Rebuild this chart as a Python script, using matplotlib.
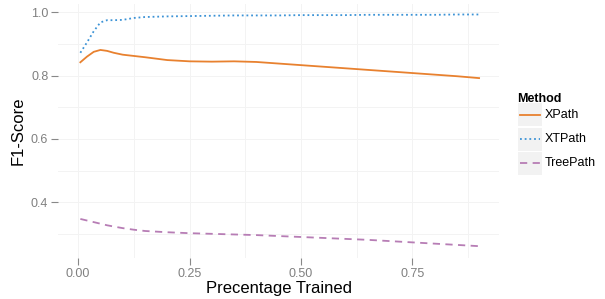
import matplotlib.pyplot as plt
from matplotlib.lines import Line2D
from matplotlib.patches import Rectangle

plt.rcParams['font.family'] = ['Liberation Sans', 'DejaVu Sans']

methods = ["XPath", "XTPath", "TreePath"]
colors = ["#E8812F", "#3C93D6", "#B77DB5"]
styles = ["-", (0, (1, 1.6)), (0, (4, 3))]

x = [0.005, 0.02, 0.035, 0.05, 0.065, 0.08, 0.1, 0.125, 0.15, 0.2, 0.25, 0.3,
     0.35, 0.4, 0.45, 0.5, 0.55, 0.6, 0.65, 0.7, 0.75, 0.8, 0.85, 0.9]
xpath = [0.842, 0.86, 0.875, 0.881, 0.878, 0.872, 0.866, 0.862, 0.858, 0.849,
         0.845, 0.844, 0.845, 0.843, 0.838, 0.833, 0.828, 0.823, 0.818, 0.813,
         0.808, 0.803, 0.798, 0.792]
xtpath = [0.872, 0.905, 0.94, 0.968, 0.975, 0.975, 0.976, 0.982, 0.985, 0.987,
          0.988, 0.989, 0.99, 0.99, 0.99, 0.991, 0.991, 0.991, 0.992, 0.992,
          0.992, 0.992, 0.993, 0.993]
treepath = [0.347, 0.342, 0.337, 0.332, 0.327, 0.323, 0.318, 0.313, 0.309, 0.305,
            0.302, 0.3, 0.298, 0.296, 0.293, 0.29, 0.287, 0.284, 0.281, 0.277,
            0.273, 0.269, 0.265, 0.261]
series = [xpath, xtpath, treepath]

fig = plt.figure(figsize=(6.05, 2.99), dpi=100)
ax = fig.add_axes([0.096, 0.137, 0.729, 0.85])

for y, c, ls in zip(series, colors, styles):
    ax.plot(x, y, color=c, linestyle=ls, linewidth=1.3)

ax.set_xlim(-0.045, 0.945)
ax.set_ylim(0.2235, 1.0265)
ax.set_xticks([0, 0.25, 0.5, 0.75])
ax.set_xticklabels(["0.00", "0.25", "0.50", "0.75"])
ax.set_yticks([0.4, 0.6, 0.8, 1.0])
ax.set_xticks([0.125, 0.375, 0.625, 0.875], minor=True)
ax.set_yticks([0.3, 0.5, 0.7, 0.9], minor=True)
ax.grid(True, which="both", color="#F3F3F3", linewidth=0.7)
ax.set_axisbelow(True)
for s in ax.spines.values():
    s.set_visible(False)
ax.tick_params(which="major", colors="#888888", labelcolor="#808080",
               labelsize=9, length=5, width=0.8, pad=2)
ax.tick_params(which="minor", length=0)
ax.set_xlabel("Precentage Trained", fontsize=12, labelpad=1)
ax.set_ylabel("F1-Score", fontsize=12, labelpad=4)

# legend
fig.text(0.855, 0.668, "Method", fontsize=9, fontweight="bold", va="center")
for i, (m, c, ls) in enumerate(zip(methods, colors, styles)):
    yc = 1 - (115 + 24 * i) / 299
    fig.add_artist(Rectangle((0.856, yc - 11.5 / 299), 24 / 605, 23 / 299,
                             transform=fig.transFigure, facecolor="#F2F2F2",
                             edgecolor="none"))
    fig.add_artist(Line2D([0.859, 0.893], [yc, yc], transform=fig.transFigure,
                          color=c, linestyle=ls, linewidth=1.3))
    fig.text(0.9, yc, m, fontsize=9, va="center")

fig.savefig("out.png", dpi=100)
